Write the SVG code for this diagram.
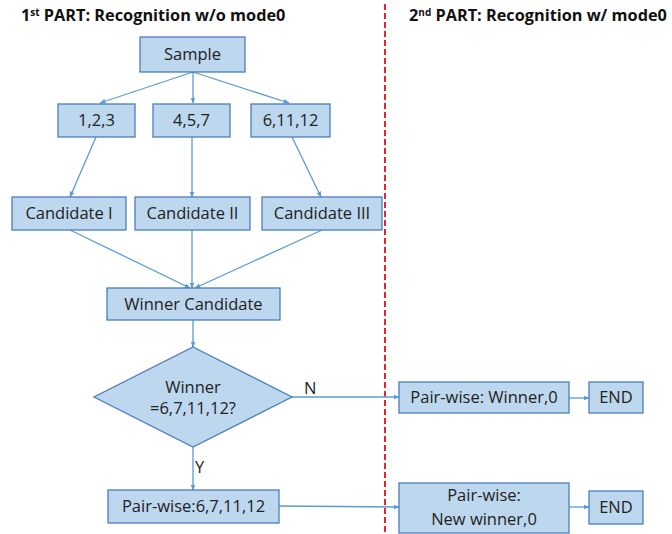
<svg xmlns="http://www.w3.org/2000/svg" width="672" height="534" viewBox="0 0 672 534">
<style>
.box{fill:#BDD7EE;stroke:#4A7EBB;stroke-width:1.3}
.t{font-family:"Open Sans","Noto Sans","Liberation Sans",sans-serif;font-size:16.5px;fill:#222;text-anchor:middle}
.title{font-family:"Open Sans","Noto Sans","Liberation Sans",sans-serif;font-size:16.3px;font-weight:bold;fill:#111}
.c{stroke:#5B9BD5;stroke-width:1.3;fill:none;marker-end:url(#ah)}
.lbl{font-family:"Open Sans","Noto Sans","Liberation Sans",sans-serif;font-size:16.5px;fill:#222}
</style>
<defs>
<marker id="ah" viewBox="0 0 10 10" refX="9" refY="5" markerWidth="6" markerHeight="6" orient="auto" markerUnits="userSpaceOnUse">
<path d="M0,1 L10,5 L0,9 z" fill="#5B9BD5"/>
</marker>
</defs>
<rect width="672" height="534" fill="#fff"/>
<text class="title" x="21" y="21">1<tspan font-size="10" dy="-5">st</tspan><tspan dy="5"> PART: Recognition w/o mode0</tspan></text>
<text class="title" x="409" y="21">2<tspan font-size="10" dy="-5">nd</tspan><tspan dy="5"> PART: Recognition w/ mode0</tspan></text>
<line x1="385" y1="4" x2="385" y2="534" stroke="#E8242C" stroke-width="2" stroke-dasharray="6,3"/>
<g id="connectors">
<line class="c" x1="193" y1="72" x2="100" y2="103"/>
<line class="c" x1="193" y1="72" x2="193" y2="103"/>
<line class="c" x1="193" y1="72" x2="289" y2="103"/>
<line class="c" x1="96" y1="137" x2="70" y2="197"/>
<line class="c" x1="192" y1="137" x2="192" y2="197"/>
<line class="c" x1="292" y1="137" x2="321" y2="197"/>
<line class="c" x1="70" y1="230" x2="190" y2="288"/>
<line class="c" x1="192" y1="230" x2="192" y2="288"/>
<line class="c" x1="322" y1="230" x2="195" y2="288"/>
<line class="c" x1="193" y1="320" x2="193" y2="347"/>
<line class="c" x1="292" y1="397" x2="399" y2="397"/>
<line class="c" x1="193" y1="447" x2="193" y2="490"/>
<line class="c" x1="279" y1="506" x2="399" y2="507"/>
<line class="c" x1="569" y1="398" x2="589" y2="398"/>
<line class="c" x1="569" y1="507" x2="589" y2="507"/>
<text class="lbl" x="304" y="394">N</text>
<text class="lbl" x="195" y="473">Y</text>
</g>
<g id="sample"><rect class="box" x="140" y="37" width="105" height="35"/><text class="t" x="192.5" y="60">Sample</text></g>
<g id="n123"><rect class="box" x="58" y="104" width="77" height="33"/><text class="t" x="96.5" y="126">1,2,3</text></g>
<g id="n457"><rect class="box" x="153" y="104" width="77" height="33"/><text class="t" x="191.5" y="126">4,5,7</text></g>
<g id="n61112"><rect class="box" x="251" y="104" width="79" height="33"/><text class="t" x="290.5" y="126">6,11,12</text></g>
<g id="cand1"><rect class="box" x="12" y="197" width="114" height="33"/><text class="t" x="69" y="219">Candidate I</text></g>
<g id="cand2"><rect class="box" x="135" y="197" width="115" height="33"/><text class="t" x="192.5" y="219">Candidate II</text></g>
<g id="cand3"><rect class="box" x="262" y="197" width="120" height="33"/><text class="t" x="322" y="219">Candidate III</text></g>
<g id="winner"><rect class="box" x="107" y="288" width="173" height="32"/><text class="t" x="193.5" y="310">Winner Candidate</text></g>
<g id="decision"><polygon class="box" points="193,347 292,397 193,447 94,397"/><text class="t" x="193" y="393" font-size="15">Winner</text><text class="t" x="193" y="414" font-size="15">=6,7,11,12?</text></g>
<g id="pw1"><rect class="box" x="108" y="490" width="171" height="33"/><text class="t" x="193.5" y="512">Pair-wise:6,7,11,12</text></g>
<g id="pw2"><rect class="box" x="399" y="382" width="170" height="31"/><text class="t" x="484" y="403">Pair-wise: Winner,0</text></g>
<g id="end1"><rect class="box" x="589" y="382" width="54" height="31"/><text class="t" x="616" y="403">END</text></g>
<g id="pw3"><rect class="box" x="399" y="483" width="170" height="50"/><text class="t" x="484" y="501">Pair-wise:</text><text class="t" x="484" y="525">New winner,0</text></g>
<g id="end2"><rect class="box" x="589" y="491" width="54" height="33"/><text class="t" x="616" y="513">END</text></g>
</svg>
